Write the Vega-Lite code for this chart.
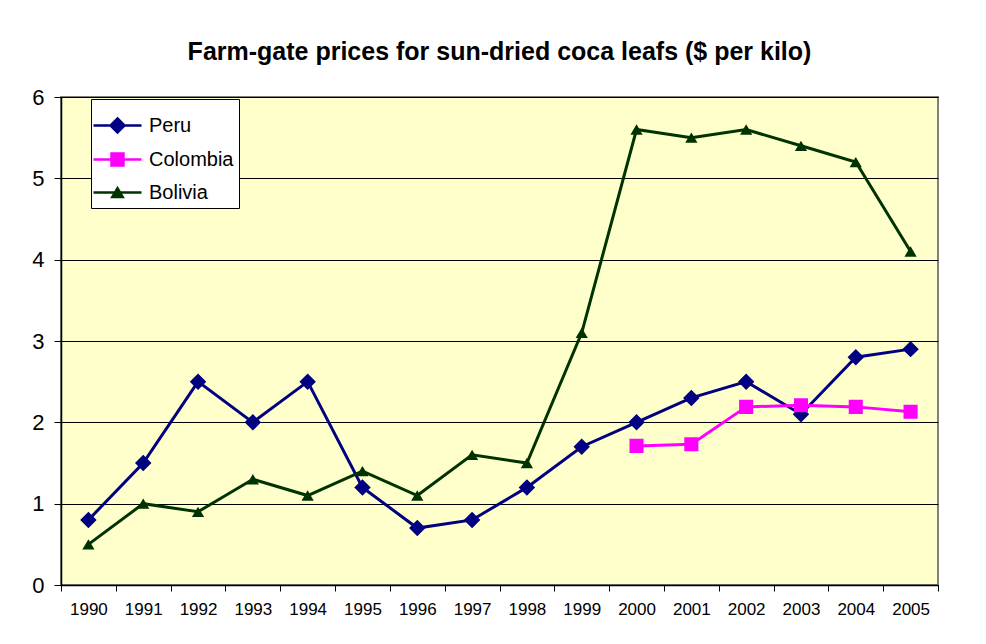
{
  "$schema": "https://vega.github.io/schema/vega-lite/v6.json",
  "autosize": {"type": "none"},
  "width": 877,
  "height": 488,
  "padding": {"left": 61, "top": 97, "right": 48, "bottom": 59},
  "background": "white",
  "title": {
    "text": "Farm-gate prices for sun-dried coca leafs ($ per kilo)",
    "font": "Liberation Sans",
    "fontSize": 25,
    "fontWeight": "bold",
    "color": "black",
    "anchor": "middle",
    "frame": "group",
    "offset": 21
  },
  "config": {
    "view": {"fill": "#FFFFCC", "stroke": "#808080", "strokeWidth": 2},
    "font": "Liberation Sans",
    "legend": {
      "title": null,
      "orient": "none",
      "legendX": 30,
      "legendY": 2,
      "fillColor": "white",
      "strokeColor": "black",
      "padding": 5,
      "rowPadding": 0,
      "labelFontSize": 20,
      "labelColor": "black",
      "labelOffset": 10,
      "symbolSize": 1600,
      "symbolStrokeWidth": 2.5,
      "symbolOpacity": 1
    }
  },
  "data": {
    "values": [
      {"year": "1990", "country": "Peru", "price": 0.8},
      {"year": "1991", "country": "Peru", "price": 1.5},
      {"year": "1992", "country": "Peru", "price": 2.5},
      {"year": "1993", "country": "Peru", "price": 2.0},
      {"year": "1994", "country": "Peru", "price": 2.5},
      {"year": "1995", "country": "Peru", "price": 1.2},
      {"year": "1996", "country": "Peru", "price": 0.7},
      {"year": "1997", "country": "Peru", "price": 0.8},
      {"year": "1998", "country": "Peru", "price": 1.2},
      {"year": "1999", "country": "Peru", "price": 1.7},
      {"year": "2000", "country": "Peru", "price": 2.0},
      {"year": "2001", "country": "Peru", "price": 2.3},
      {"year": "2002", "country": "Peru", "price": 2.5},
      {"year": "2003", "country": "Peru", "price": 2.1},
      {"year": "2004", "country": "Peru", "price": 2.8},
      {"year": "2005", "country": "Peru", "price": 2.9},
      {"year": "2000", "country": "Colombia", "price": 1.71},
      {"year": "2001", "country": "Colombia", "price": 1.73},
      {"year": "2002", "country": "Colombia", "price": 2.19},
      {"year": "2003", "country": "Colombia", "price": 2.21},
      {"year": "2004", "country": "Colombia", "price": 2.19},
      {"year": "2005", "country": "Colombia", "price": 2.13},
      {"year": "1990", "country": "Bolivia", "price": 0.5},
      {"year": "1991", "country": "Bolivia", "price": 1.0},
      {"year": "1992", "country": "Bolivia", "price": 0.9},
      {"year": "1993", "country": "Bolivia", "price": 1.3},
      {"year": "1994", "country": "Bolivia", "price": 1.1},
      {"year": "1995", "country": "Bolivia", "price": 1.4},
      {"year": "1996", "country": "Bolivia", "price": 1.1},
      {"year": "1997", "country": "Bolivia", "price": 1.6},
      {"year": "1998", "country": "Bolivia", "price": 1.5},
      {"year": "1999", "country": "Bolivia", "price": 3.1},
      {"year": "2000", "country": "Bolivia", "price": 5.6},
      {"year": "2001", "country": "Bolivia", "price": 5.5},
      {"year": "2002", "country": "Bolivia", "price": 5.6},
      {"year": "2003", "country": "Bolivia", "price": 5.4},
      {"year": "2004", "country": "Bolivia", "price": 5.2},
      {"year": "2005", "country": "Bolivia", "price": 4.1}
    ]
  },
  "encoding": {
    "x": {
      "field": "year",
      "type": "ordinal",
      "scale": {"type": "band", "paddingInner": 0, "paddingOuter": 0},
      "axis": {
        "title": null,
        "labelAngle": 0,
        "labelFontSize": 17,
        "labelColor": "black",
        "labelPadding": 10,
        "tickBand": "extent",
        "tickSize": 6,
        "tickColor": "black",
        "domainColor": "black",
        "domainWidth": 1.5,
        "grid": false
      }
    },
    "y": {
      "field": "price",
      "type": "quantitative",
      "scale": {"domain": [0, 6], "nice": false},
      "axis": {
        "title": null,
        "values": [0, 1, 2, 3, 4, 5, 6],
        "labelOverlap": false,
        "labelFontSize": 22,
        "labelColor": "black",
        "labelPadding": 10,
        "tickSize": 7,
        "tickColor": "black",
        "domainColor": "black",
        "domainWidth": 1.5,
        "grid": true,
        "gridColor": "black",
        "gridOpacity": 1,
        "gridWidth": 1
      }
    },
    "color": {
      "field": "country",
      "type": "nominal",
      "scale": {
        "domain": ["Peru", "Colombia", "Bolivia"],
        "range": ["#000080", "#FF00FF", "#003300"]
      },
      "legend": {
        "encode": {
          "symbols": {
            "update": {
              "stroke": {"scale": "color", "field": "value"},
              "strokeWidth": {"value": 2.5}
            }
          }
        }
      }
    }
  },
  "layer": [
    {
      "mark": {"type": "line", "strokeWidth": 3}
    },
    {
      "mark": {"type": "point", "filled": true, "opacity": 1, "size": 2209, "strokeWidth": 0},
      "encoding": {
        "shape": {
          "field": "country",
          "type": "nominal",
          "scale": {
            "domain": ["Peru", "Colombia", "Bolivia"],
            "range": [
              "M-1.2,0H1.2M0,-0.35L0.35,0L0,0.35L-0.35,0Z",
              "M-1.2,0H1.2M-0.3,-0.3H0.3V0.3H-0.3Z",
              "M-1.2,0H1.2M-0.26,0.22L0.26,0.22L0,-0.22Z"
            ]
          }
        }
      }
    }
  ]
}
